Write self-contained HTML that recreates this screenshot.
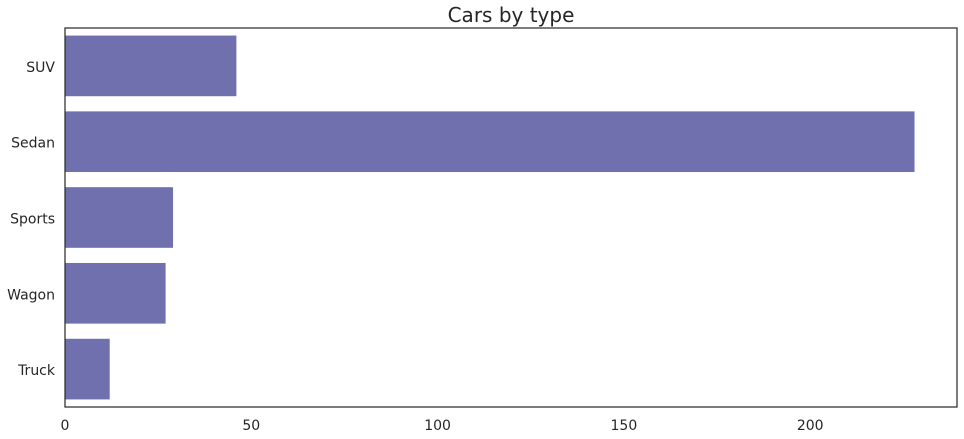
<!DOCTYPE html>
<html><head><meta charset="utf-8"><style>
html,body{margin:0;padding:0;background:#fff;}
svg{display:block;font-family:"DejaVu Sans","Liberation Sans",sans-serif;}
</style></head><body>
<svg id="chart" width="964" height="439"></svg>
<script>
const categories = ["SUV","Sedan","Sports","Wagon","Truck"];
const values = [46, 228, 29, 27, 12];
const xTicks = [0, 50, 100, 150, 200];

const ns = "http://www.w3.org/2000/svg";
const svg = document.getElementById("chart");
const L = 65, R = 957, T = 28, B = 407, xMax = 239.4;
const xs = v => L + (v / xMax) * (R - L);
const band = (B - T) / categories.length;
const ys = i => T + band * i;

function mk(tag, attrs, text) {
  const e = document.createElementNS(ns, tag);
  for (const k in attrs) e.setAttribute(k, attrs[k]);
  if (text !== undefined) e.textContent = text;
  svg.appendChild(e);
  return e;
}

const title = mk("text", {x: (L + R) / 2, y: 22, "text-anchor": "middle", "font-size": 20, fill: "#262626"}, "Cars by type");



categories.forEach((c, i) => {
  const bar = mk("rect", {x: xs(0), y: ys(i) + band * 0.1, width: xs(values[i]) - xs(0), height: band * 0.8, fill: "#7170af"});
  
  
  const lab = mk("text", {x: L - 10, y: ys(i) + band / 2 + 6, "text-anchor": "end", "font-size": 14, fill: "#262626"}, c);
  
  
});

xTicks.forEach(t => {
  const lab = mk("text", {x: xs(t), y: B + 23, "text-anchor": "middle", "font-size": 14, fill: "#262626"}, String(t));
  
  
});

const frame = mk("rect", {x: L, y: T, width: R - L, height: B - T, fill: "none", stroke: "#262626", "stroke-width": 1.2});


</script>
</body></html>
